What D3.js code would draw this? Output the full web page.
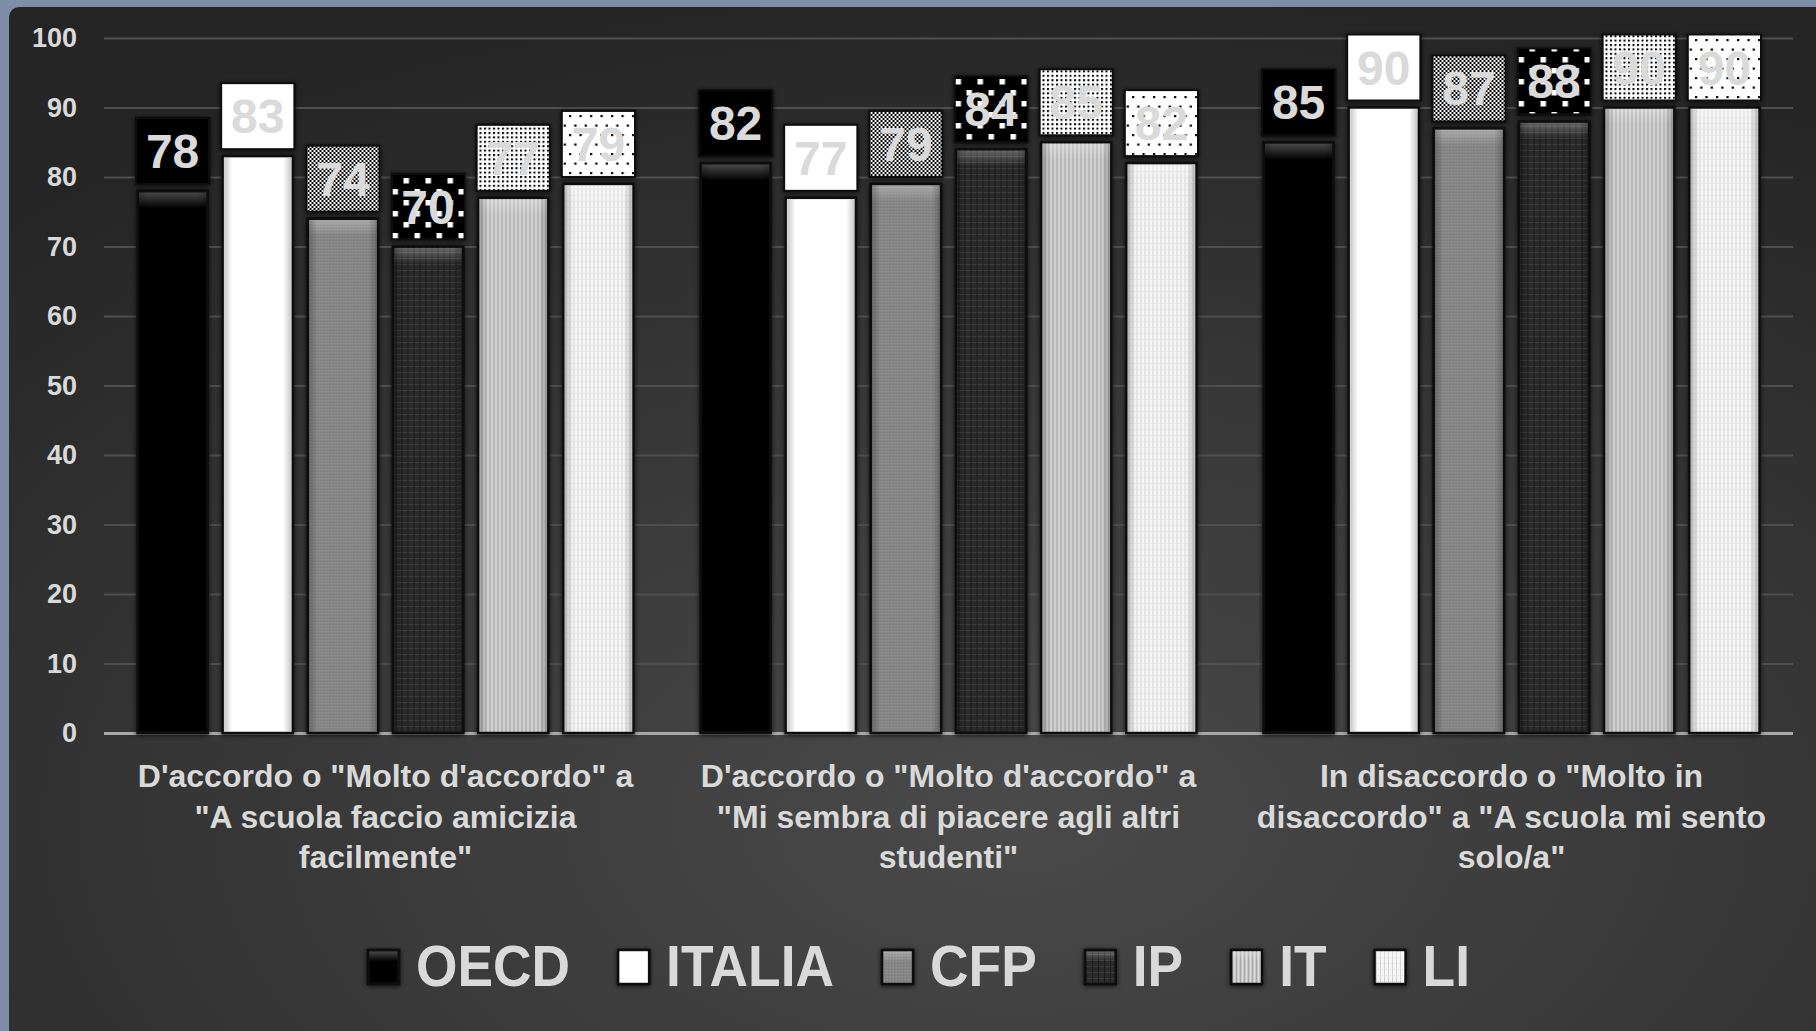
<!DOCTYPE html>
<html><head><meta charset="utf-8">
<script src="https://cdn.jsdelivr.net/npm/d3@7/dist/d3.min.js"></script>
<style>
html,body{margin:0;padding:0;background:#7f8ea8;overflow:hidden}
svg{display:block}
text{font-family:'Liberation Sans',Arial,sans-serif;font-weight:bold}
</style>
</head><body>
<svg id="c" width="1816" height="1031"></svg>
<script>
// ---------- DATA ----------
const categoryLines = [
  ["D'accordo o \"Molto d'accordo\" a", "\"A scuola faccio amicizia", "facilmente\""],
  ["D'accordo o \"Molto d'accordo\" a", "\"Mi sembra di piacere agli altri", "studenti\""],
  ["In disaccordo o \"Molto in", "disaccordo\" a \"A scuola mi sento", "solo/a\""]
];
const seriesNames = ["OECD", "ITALIA", "CFP", "IP", "IT", "LI"];
const OECD   = [78, 82, 85];
const ITALIA = [83, 77, 90];
const CFP    = [74, 79, 87];
const IP     = [70, 84, 88];
const IT     = [77, 85, 90];
const LI     = [79, 82, 90];
const yTicks = [0, 10, 20, 30, 40, 50, 60, 70, 80, 90, 100];

const seriesValues = {OECD, ITALIA, CFP, IP, IT, LI};

// ---------- SETUP ----------
const svg = d3.select("#c");
const defs = svg.append("defs");

const bg = defs.append("radialGradient").attr("id","bgGrad")
  .attr("cx","0.55").attr("cy","0.78").attr("r","0.8");
bg.append("stop").attr("offset","0").attr("stop-color","#4a4a4a");
bg.append("stop").attr("offset","0.55").attr("stop-color","#363636");
bg.append("stop").attr("offset","1").attr("stop-color","#252525");

const sh = defs.append("filter").attr("id","shadow").attr("x","-20%").attr("y","-20%").attr("width","140%").attr("height","140%");
sh.append("feDropShadow").attr("dx",0).attr("dy",1).attr("stdDeviation",2.5)
  .attr("flood-color","#000").attr("flood-opacity",0.75);

// bevel overlays
const bev = defs.append("linearGradient").attr("id","bevel").attr("x1",0).attr("y1",0).attr("x2",0).attr("y2",1);
bev.append("stop").attr("offset","0").attr("stop-color","#fff").attr("stop-opacity",0.28);
bev.append("stop").attr("offset","1").attr("stop-color","#fff").attr("stop-opacity",0);
const side = defs.append("linearGradient").attr("id","side").attr("x1",0).attr("y1",0).attr("x2",1).attr("y2",0);
side.append("stop").attr("offset","0").attr("stop-color","#000").attr("stop-opacity",0.22);
side.append("stop").attr("offset","0.12").attr("stop-color","#000").attr("stop-opacity",0);
side.append("stop").attr("offset","0.88").attr("stop-color","#000").attr("stop-opacity",0);
side.append("stop").attr("offset","1").attr("stop-color","#000").attr("stop-opacity",0.22);

function pat(id, w, h, bgc) {
  const p = defs.append("pattern").attr("id", id).attr("patternUnits","userSpaceOnUse")
    .attr("width", w).attr("height", h);
  p.append("rect").attr("width", w).attr("height", h).attr("fill", bgc);
  return p;
}
// bar fills
let p;
p = pat("barIP", 6, 6, "#2a2a2a");
p.append("rect").attr("width",6).attr("height",1).attr("fill","#3d3d3d");
p.append("rect").attr("width",1).attr("height",6).attr("fill","#1c1c1c");
p = pat("barIT", 4, 4, "#c6c6c6");
p.append("rect").attr("width",1).attr("height",4).attr("fill","#a8a8a8");
p.append("rect").attr("x",2).attr("width",1).attr("height",4).attr("fill","#dcdcdc");
p = pat("barLI", 4, 6, "#f6f6f6");
p.append("rect").attr("width",1).attr("height",6).attr("fill","#d2d2d2");
p.append("rect").attr("x",2).attr("y",3).attr("width",1).attr("height",1).attr("fill","#e0e0e0");
p = pat("barCFP", 3, 3, "#868686");
p.append("rect").attr("width",1).attr("height",1).attr("fill","#7a7a7a");
p.append("rect").attr("x",2).attr("y",1).attr("width",1).attr("height",1).attr("fill","#939393");

// label box fills
p = pat("boxCFP", 4, 4, "#fff");
p.append("rect").attr("width",2).attr("height",2).attr("fill","#000");
p.append("rect").attr("x",2).attr("y",2).attr("width",2).attr("height",2).attr("fill","#000");
p = pat("boxIP", 22, 22, "#000");
p.append("rect").attr("x",2).attr("y",2).attr("width",5.5).attr("height",5.5).attr("fill","#fff");
p.append("rect").attr("x",13).attr("y",13).attr("width",5.5).attr("height",5.5).attr("fill","#fff");
p = pat("boxIT", 4.5, 4.4, "#fff");
p.append("rect").attr("width",2).attr("height",2).attr("fill","#000");
p = pat("boxLI", 10.5, 19, "#fff");
p.append("rect").attr("x",1).attr("y",1).attr("width",2.2).attr("height",2.2).attr("fill","#000");
p.append("rect").attr("x",6.25).attr("y",10.5).attr("width",2.2).attr("height",2.2).attr("fill","#000");

const barFill = {OECD:"#060606", ITALIA:"#ffffff", CFP:"url(#barCFP)", IP:"url(#barIP)", IT:"url(#barIT)", LI:"url(#barLI)"};
const boxFill = {OECD:"#000000", ITALIA:"#ffffff", CFP:"url(#boxCFP)", IP:"url(#boxIP)", IT:"url(#boxIT)", LI:"url(#boxLI)"};

// background panel
svg.append("rect").attr("width",1816).attr("height",1031).attr("fill","#7f8ea8");
svg.append("rect").attr("x",9).attr("y",7).attr("width",1830).attr("height",1040).attr("rx",10)
  .attr("fill","url(#bgGrad)");

// ---------- SCALES ----------
const left = 104, right = 1793;
const x0 = d3.scaleBand().domain(d3.range(categoryLines.length)).range([left, right])
  .paddingInner(0.119).paddingOuter(0.0595);
const x1 = d3.scaleBand().domain(seriesNames).range([0, x0.bandwidth()]).paddingInner(0.176);
const y = d3.scaleLinear().domain([0, 100]).range([733, 38]);

// ---------- AXIS / GRID ----------
const axis = svg.append("g").attr("transform", `translate(${left},0)`)
  .call(d3.axisLeft(y).tickValues(yTicks).tickSize(-(right - left)).tickPadding(27));
axis.select(".domain").remove();
axis.selectAll(".tick line").attr("stroke","#4f4f4f").attr("stroke-width",2);
axis.selectAll(".tick text").attr("fill","#d9d9d9").attr("font-size",27)
  .style("font-family","'Liberation Sans',Arial,sans-serif").style("font-weight","bold");
axis.selectAll(".tick").filter(d => d === 0).select("line").attr("stroke","#a8a8a8").attr("stroke-width",3);

// ---------- BARS ----------
const groups = svg.append("g").selectAll("g").data(categoryLines).join("g")
  .attr("transform", (d, i) => `translate(${x0(i)},0)`);

const items = groups.selectAll("g.item")
  .data((d, i) => seriesNames.map(s => ({s, v: seriesValues[s][i]})))
  .join("g").attr("class","item");

items.append("rect")
  .attr("x", d => x1(d.s)).attr("y", d => y(d.v))
  .attr("width", x1.bandwidth()).attr("height", d => y(0) - y(d.v))
  .attr("fill", d => barFill[d.s]).attr("stroke","#0c0c0c").attr("stroke-width",2.5)
  .attr("filter","url(#shadow)");
items.append("rect")
  .attr("x", d => x1(d.s) + 1.5).attr("y", d => y(d.v) + 1.5)
  .attr("width", x1.bandwidth() - 3).attr("height", 16)
  .attr("fill","url(#bevel)");
items.append("rect")
  .attr("x", d => x1(d.s) + 1.5).attr("y", d => y(d.v) + 1.5)
  .attr("width", x1.bandwidth() - 3).attr("height", d => y(0) - y(d.v) - 3)
  .attr("fill","url(#side)");

// value label boxes
const boxH = 66, boxGap = 7, boxExtra = 3;
items.append("rect")
  .attr("x", d => x1(d.s) - boxExtra / 2)
  .attr("y", d => y(d.v) - boxGap - boxH)
  .attr("width", x1.bandwidth() + boxExtra).attr("height", boxH)
  .attr("fill", d => boxFill[d.s]).attr("stroke","#111").attr("stroke-width",2)
  .attr("filter","url(#shadow)");
items.append("text")
  .attr("x", d => x1(d.s) + x1.bandwidth() / 2)
  .attr("y", d => y(d.v) - boxGap - boxH / 2 + 17)
  .attr("text-anchor","middle").attr("font-size",48).attr("fill","#dadada")
  .text(d => d.v);

// ---------- CATEGORY LABELS ----------
groups.append("text")
  .attr("x", x0.bandwidth() / 2).attr("y", 787)
  .attr("text-anchor","middle").attr("font-size",32).attr("fill","#d9d9d9")
  .selectAll("tspan").data(d => d).join("tspan")
  .attr("x", x0.bandwidth() / 2).attr("dy", (d, i) => i === 0 ? 0 : 40.5)
  .text(d => d);

// ---------- LEGEND ----------
const legend = svg.append("g");
const sw = 31, swH = 34, swGap = 17, itemGap = 48, legendCenter = 919, legendBase = 986, squeeze = 0.92;
const litems = legend.selectAll("g").data(seriesNames).join("g");
const ltexts = litems.append("g").append("text").attr("font-size",58).attr("fill","#d9d9d9")
  .attr("transform", `scale(${squeeze},1)`).text(d => d);
let widths = [];
ltexts.each(function(){ widths.push(this.getComputedTextLength() * squeeze); });
const total = d3.sum(widths) + seriesNames.length * (sw + swGap) + (seriesNames.length - 1) * itemGap;
let cx = legendCenter - total / 2;
litems.each(function(d, i){
  const g = d3.select(this);
  g.insert("rect",":first-child").attr("x", cx).attr("y", legendBase - 36).attr("width", sw).attr("height", swH)
    .attr("fill", barFill[d]).attr("stroke","#111").attr("stroke-width",2.5).attr("filter","url(#shadow)");
  g.append("rect").attr("x", cx + 1.5).attr("y", legendBase - 34.5).attr("width", sw - 3).attr("height", 10)
    .attr("fill","url(#bevel)");
  g.select("g").attr("transform", `translate(${cx + sw + swGap},${legendBase})`);
  cx += sw + swGap + widths[i] + itemGap;
});
</script>
</body></html>
